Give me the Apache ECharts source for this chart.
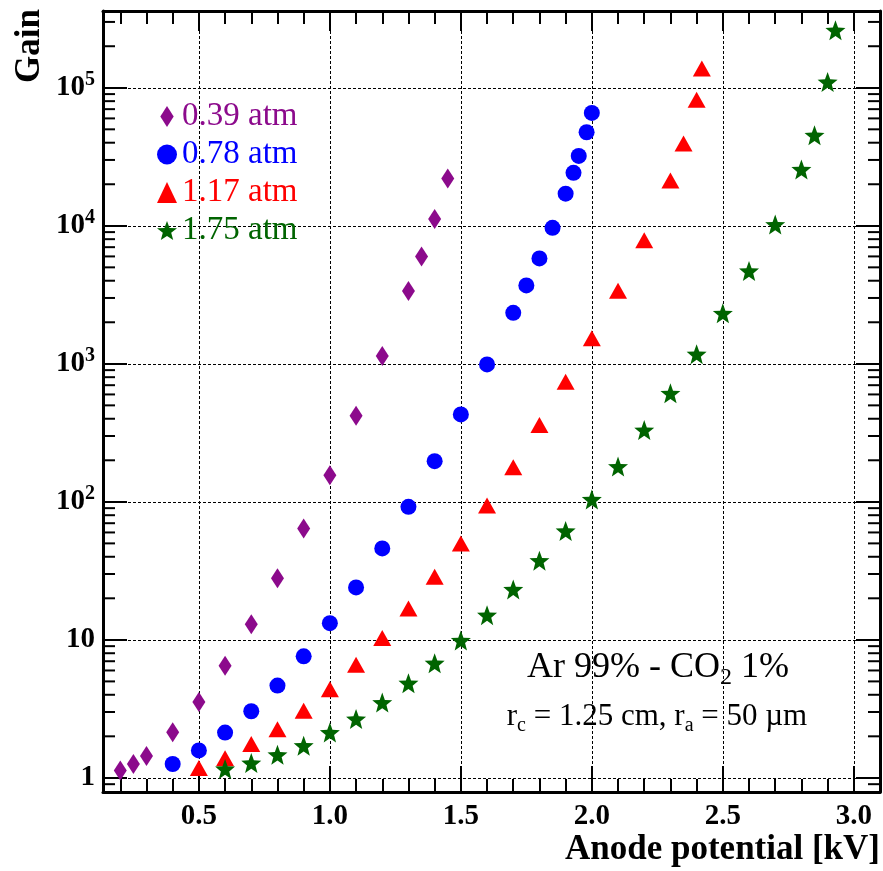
<!DOCTYPE html>
<html>
<head>
<meta charset="utf-8">
<script src="https://cdn.jsdelivr.net/npm/echarts@6/dist/echarts.min.js"></script>
<style>
    html, body { width: 100%; height: 100%; margin: 0; background: #fff; }
    #chart { width: 883px; height: 871px; }
</style>
</head>
<body>
<div id="chart"></div>
<script>
// axis limits
var xMin = 0.134, xMax = 3.1;
var yMin = 0.79, yMax = 3.6e5;

var seriesNames = ['0.39 atm', '0.78 atm', '1.17 atm', '1.75 atm'];
var seriesColors = ['#8c0a8c', '#0000ff', '#ff0000', '#006400'];

// anode potential [kV] / gain
var hv039 = [0.2, 0.25, 0.3, 0.4, 0.5, 0.6, 0.7, 0.8, 0.9, 1.0, 1.1, 1.2, 1.3, 1.35, 1.4, 1.45];
var gain039 = [1.13, 1.26, 1.44, 2.14, 3.55, 6.5, 13, 28, 64, 156, 420, 1140, 3370, 6000, 11200, 22000];

var hv078 = [0.4, 0.5, 0.6, 0.7, 0.8, 0.9, 1.0, 1.1, 1.2, 1.3, 1.4, 1.5, 1.6, 1.7, 1.75, 1.8, 1.85, 1.9, 1.93, 1.95, 1.98, 2.0];
var gain078 = [1.26, 1.58, 2.13, 3.04, 4.66, 7.6, 13.2, 24, 46, 92, 197, 430, 990, 2340, 3700, 5800, 9660, 17100, 24200, 32100, 47600, 65700];

var hv117 = [0.5, 0.6, 0.7, 0.8, 0.9, 1.0, 1.1, 1.2, 1.3, 1.4, 1.5, 1.6, 1.7, 1.8, 1.9, 2.0, 2.1, 2.2, 2.3, 2.35, 2.4, 2.42];
var gain117 = [1.18, 1.39, 1.76, 2.25, 3.06, 4.39, 6.6, 10.3, 16.9, 28.7, 50, 94, 178, 360, 740, 1530, 3380, 7870, 21300, 39400, 82000, 138000];

var hv175 = [0.6, 0.7, 0.8, 0.9, 1.0, 1.1, 1.2, 1.3, 1.4, 1.5, 1.6, 1.7, 1.8, 1.9, 2.0, 2.1, 2.2, 2.3, 2.4, 2.5, 2.6, 2.7, 2.8, 2.85, 2.9, 2.93];
var gain175 = [1.16, 1.28, 1.47, 1.71, 2.13, 2.67, 3.51, 4.85, 6.77, 9.9, 15.1, 23.2, 37.5, 61.5, 104, 180, 331, 611, 1175, 2320, 4710, 10200, 25600, 45300, 110000, 261000];

// minor ticks of the log axis (2..9 per decade)
var logMinor = [0.9];
for (var k = 0; k <= 5; k++) {
    for (var m = 2; m <= 9; m++) {
        if (m * Math.pow(10, k) < yMax) logMinor.push(m * Math.pow(10, k));
    }
}

var serif = 'Liberation Serif';
var starPath = 'path://M0,-10L2.47,-3.4L9.51,-3.09L3.99,1.3L5.88,8.09L0,4.2L-5.88,8.09L-3.99,1.3L-9.51,-3.09L-2.47,-3.4Z';
var diamondPath = 'path://M0,-11L7,0L0,11L-7,0Z';

function pairs(xs, ys) {
    return xs.map(function (x, i) { return [x, ys[i]]; });
}

var chart = echarts.init(document.getElementById('chart'));

var gridLine = { show: true, lineStyle: { color: '#000', width: 1, type: [3, 2] } };

var option = {
    backgroundColor: '#fff',
    animation: false,
    grid: { left: 103, right: 2, top: 11, bottom: 79 },
    legend: {
        orient: 'vertical',
        left: 152,
        top: 95,
        itemGap: 5,
        itemWidth: 20,
        itemHeight: 21,
        textStyle: { fontFamily: serif, fontSize: 33 },
        data: [
            { name: seriesNames[0], icon: diamondPath, textStyle: { color: seriesColors[0] } },
            { name: seriesNames[1], icon: 'circle', textStyle: { color: seriesColors[1] } },
            { name: seriesNames[2], icon: 'triangle', textStyle: { color: seriesColors[2] } },
            { name: seriesNames[3], icon: starPath, textStyle: { color: seriesColors[3] } }
        ]
    },
    xAxis: [{
        type: 'value',
        position: 'bottom',
        min: xMin,
        max: xMax,
        splitNumber: 6,
        axisLine: { lineStyle: { color: '#000', width: 3 } },
        axisTick: { inside: true, length: 26, lineStyle: { color: '#000', width: 2 } },
        minorTick: { show: true, splitNumber: 5, length: 13, lineStyle: { color: '#000', width: 2 } },
        splitLine: gridLine,
        axisLabel: {
            showMinLabel: false,
            showMaxLabel: false,
            margin: 10,
            color: '#000',
            fontFamily: serif,
            fontWeight: 'bold',
            fontSize: 29,
            formatter: function (v) { return v.toFixed(1); }
        },
        name: 'Anode potential [kV]',
        nameLocation: 'end',
        nameGap: 0,
        nameTextStyle: {
            color: '#000', fontFamily: serif, fontWeight: 'bold', fontSize: 35,
            align: 'right', verticalAlign: 'top', padding: [40, 0, 0, 0]
        }
    }, {
        type: 'value',
        position: 'top',
        min: xMin,
        max: xMax,
        splitNumber: 6,
        axisLine: { lineStyle: { color: '#000', width: 3 } },
        axisTick: { inside: true, length: 20, lineStyle: { color: '#000', width: 2 } },
        minorTick: { show: true, splitNumber: 5, length: 13, lineStyle: { color: '#000', width: 2 } },
        splitLine: { show: false },
        axisLabel: { show: false }
    }],
    yAxis: [{
        type: 'log',
        position: 'left',
        min: yMin,
        max: yMax,
        logBase: 10,
        axisLine: { lineStyle: { color: '#000', width: 3 } },
        axisTick: { inside: true, length: 24, lineStyle: { color: '#000', width: 2 } },
        splitLine: gridLine,
        axisLabel: {
            margin: 8,
            color: '#000',
            fontFamily: serif,
            fontWeight: 'bold',
            fontSize: 29,
            formatter: function (v) {
                var lg = Math.log10(v);
                var e = Math.round(lg);
                if (Math.abs(lg - e) > 1e-6) return '';
                if (e === 0) return '{b|1}';
                if (e === 1) return '{b|10}';
                return '{b|10}{s|' + e + '}';
            },
            rich: {
                b: { fontFamily: serif, fontWeight: 'bold', fontSize: 29, color: '#000' },
                s: { fontFamily: serif, fontWeight: 'bold', fontSize: 20, color: '#000', padding: [0, 0, 16, 0] }
            }
        }
    }, {
        type: 'log',
        position: 'right',
        min: yMin,
        max: yMax,
        logBase: 10,
        axisLine: { lineStyle: { color: '#000', width: 3 } },
        axisTick: { inside: true, length: 24, lineStyle: { color: '#000', width: 2 } },
        splitLine: { show: false },
        axisLabel: { show: false }
    }],
    graphic: [{
        type: 'text',
        x: 30,
        y: 9,
        rotation: Math.PI / 2,
        style: {
            text: 'Gain', fill: '#000',
            font: 'bold 35px "Liberation Serif"',
            align: 'right', verticalAlign: 'middle'
        }
    }, {
        type: 'text',
        x: 658,
        y: 668,
        style: {
            text: 'Ar 99% - CO{sub|2} 1%',
            fill: '#000',
            font: '36px "Liberation Serif"',
            align: 'center', verticalAlign: 'middle',
            rich: {
                sub: { fontFamily: serif, fontSize: 24, fill: '#000', padding: [20, 0, 0, 0] }
            }
        }
    }, {
        type: 'text',
        x: 657,
        y: 717,
        style: {
            text: 'r{sub|c} = 1.25 cm, r{sub|a} = 50 \u00b5m',
            fill: '#000',
            font: '31px "Liberation Serif"',
            align: 'center', verticalAlign: 'middle',
            rich: {
                sub: { fontFamily: serif, fontSize: 20, fill: '#000', padding: [18, 0, 0, 0] }
            }
        }
    }],
    series: [{
        name: seriesNames[0],
        type: 'scatter',
        symbol: 'diamond',
        symbolSize: [13, 20],
        itemStyle: { color: seriesColors[0], opacity: 1 },
        data: pairs(hv039, gain039)
    }, {
        name: seriesNames[1],
        type: 'scatter',
        symbol: 'circle',
        symbolSize: 16,
        itemStyle: { color: seriesColors[1], opacity: 1 },
        data: pairs(hv078, gain078)
    }, {
        name: seriesNames[2],
        type: 'scatter',
        symbol: 'triangle',
        symbolSize: [18, 16],
        itemStyle: { color: seriesColors[2], opacity: 1 },
        data: pairs(hv117, gain117)
    }, {
        name: seriesNames[3],
        type: 'scatter',
        symbol: starPath,
        symbolSize: 20,
        itemStyle: { color: seriesColors[3], opacity: 1 },
        data: pairs(hv175, gain175)
    }, {
        // minor log ticks on left and right frame
        type: 'custom',
        silent: true,
        clip: false,
        z: 5,
        data: logMinor.map(function (v) { return [xMin, v]; }),
        renderItem: function (params, api) {
            var v = api.value(1);
            var pl = api.coord([xMin, v]);
            var pr = api.coord([xMax, v]);
            var st = { stroke: '#000', lineWidth: 2 };
            return {
                type: 'group',
                children: [
                    { type: 'line', shape: { x1: pl[0], y1: pl[1], x2: pl[0] + 12, y2: pl[1] }, style: st },
                    { type: 'line', shape: { x1: pr[0], y1: pr[1], x2: pr[0] - 12, y2: pr[1] }, style: st }
                ]
            };
        }
    }]
};

chart.setOption(option);
</script>
</body>
</html>
